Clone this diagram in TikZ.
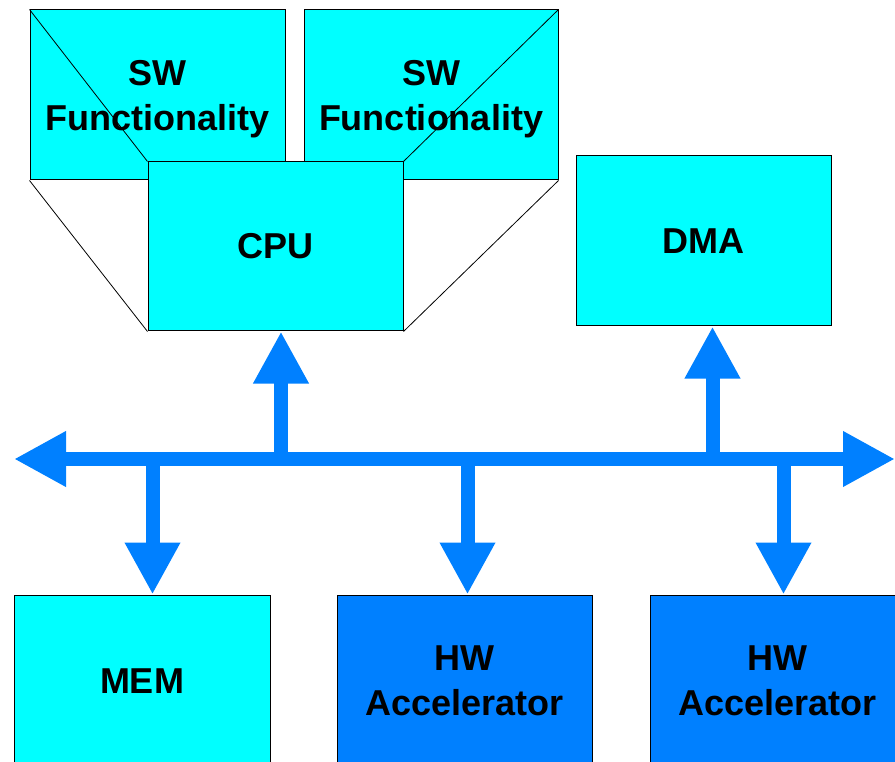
\documentclass[tikz,border=0pt]{standalone}
\usepackage{fontspec}
\setmainfont{Liberation Sans}
\usetikzlibrary{arrows.meta}
\definecolor{boxcyan}{HTML}{00FFFF}
\definecolor{busblue}{HTML}{0080FF}
\pgfdeclarelayer{back}
\pgfsetlayers{back,main}
\begin{document}
\begin{tikzpicture}[x=1pt,y=-1pt,
  box/.style={draw=black, line width=1pt, minimum width=255pt, minimum height=170pt,
    inner sep=0pt, align=center, font=\bfseries\fontsize{36}{45}\selectfont},
  cyanbox/.style={box, fill=boxcyan},
  hwbox/.style={box, fill=busblue},
  link/.style={draw=black, line width=0.8pt},
  busline/.style={draw=busblue, line width=14pt,
    {Triangle[width=52pt,length=52pt]}-{Triangle[width=52pt,length=52pt]}},
  busarrow/.style={draw=busblue, line width=14pt, -{Triangle[width=52pt,length=52pt]}}
]
\useasboundingbox (0,0) rectangle (895,762);
\clip (0,0) rectangle (895,762);
\begin{pgfonlayer}{back}
\fill[white] (0,0) rectangle (895,762);
% SW boxes
\node[cyanbox, minimum width=255pt, text depth=0pt] (sw1) at (157.5,95) {SW\\Functionality};
\node[cyanbox, minimum width=254pt, text depth=0pt] (sw2) at (431,95) {SW\\Functionality};
\end{pgfonlayer}

% CPU and DMA
\node[cyanbox, minimum height=169pt] (cpu) at (275.5,246.5) {CPU};
\begin{pgfonlayer}{back}
\draw[link] (sw1.north west) -- (cpu.north west);
\draw[link] (sw1.south west) -- (cpu.south west);
\draw[link] (sw2.north east) -- (cpu.north east);
\draw[link] (sw2.south east) -- (cpu.south east);
\end{pgfonlayer}
\node[cyanbox] (dma) at (703.5,241) {DMA};

% bottom boxes
\node[cyanbox, minimum width=256pt, minimum height=172pt] (mem) at (142,681) {MEM};
\node[hwbox, minimum height=172pt] (hw1) at (464.5,681) {HW\\Accelerator};
\node[hwbox, minimum height=172pt] (hw2) at (777.5,681) {HW\\Accelerator};

% bus
\coordinate (busL) at (14,459);
\coordinate (busR) at (895,459);
\coordinate (tcpu) at (281,459);
\coordinate (tdma) at (712.5,459);
\coordinate (tmem) at (152.5,459);
\coordinate (thw1) at (467.5,459);
\coordinate (thw2) at (783.5,459);
\draw[busline] (busL) -- (busR);
\draw[busarrow] (tcpu) -- (tcpu |- cpu.south);
\draw[busarrow] (tdma) -- (tdma |- dma.south);
\draw[busarrow] (tmem) -- (tmem |- mem.north);
\draw[busarrow] (thw1) -- (thw1 |- hw1.north);
\draw[busarrow] (thw2) -- (thw2 |- hw2.north);
\end{tikzpicture}
\end{document}
